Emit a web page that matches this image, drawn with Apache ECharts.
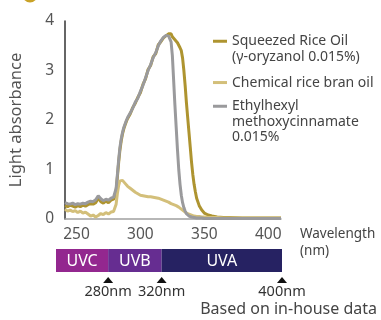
<!DOCTYPE html>
<html>
<head>
<meta charset="utf-8">
<script src="https://cdn.jsdelivr.net/npm/echarts@6/dist/echarts.min.js"></script>
<style>
  html, body { margin: 0; padding: 0; background: #fff; }
  #chart { width: 381px; height: 320px; }
</style>
</head>
<body>
<div id="chart"></div>
<script>
// wavelength (nm) shared by all three curves
const wavelengths = [
  241, 243, 245, 247, 249, 251, 253, 255, 257, 259, 261, 263, 265, 267, 269, 271, 273, 275, 277, 279,
  280, 281, 282, 283, 284, 285, 286, 287, 288, 289, 290,
  292, 294, 296, 298, 300, 302, 304, 306, 308, 310, 312, 314, 316, 318,
  320, 321, 322, 323, 324, 325, 326, 327, 328, 329, 330, 331, 332, 333, 334, 335, 336, 337, 338, 339, 340, 341, 342, 343, 344,
  346, 348, 350, 353, 356, 360, 365, 370, 380, 390, 400, 410
];

const squeezed = [
  0.27, 0.25, 0.28, 0.26, 0.24, 0.27, 0.25, 0.28, 0.26, 0.29, 0.31, 0.30, 0.33, 0.42, 0.35, 0.32, 0.36, 0.33, 0.38, 0.40,
  0.45, 0.58, 0.85, 1.15, 1.40, 1.58, 1.72, 1.82, 1.90, 1.97, 2.03,
  2.12, 2.25, 2.34, 2.46, 2.55, 2.72, 2.83, 3.02, 3.10, 3.28, 3.34, 3.52, 3.58, 3.66,
  3.70, 3.72, 3.74, 3.76, 3.74, 3.68, 3.66, 3.62, 3.60, 3.56, 3.52, 3.46, 3.40, 3.25, 3.00, 2.70, 2.35, 2.05, 1.75, 1.45, 1.15, 0.90, 0.70, 0.55, 0.42,
  0.27, 0.18, 0.12, 0.08, 0.06, 0.04, 0.03, 0.03, 0.02, 0.02, 0.02, 0.02
];

const chemical = [
  0.20, 0.16, 0.18, 0.15, 0.17, 0.13, 0.16, 0.12, 0.14, 0.10, 0.06, 0.08, 0.04, 0.07, 0.11, 0.09, 0.13, 0.10, 0.14, 0.15,
  0.16, 0.30, 0.52, 0.68, 0.77, 0.80, 0.78, 0.75, 0.72, 0.69, 0.66,
  0.62, 0.58, 0.54, 0.51, 0.48, 0.47, 0.46, 0.45, 0.45, 0.44, 0.43, 0.42, 0.40, 0.38,
  0.36, 0.35, 0.34, 0.33, 0.31, 0.30, 0.29, 0.28, 0.27, 0.26, 0.24, 0.22, 0.20, 0.18, 0.16, 0.14, 0.12, 0.11, 0.10, 0.09, 0.08, 0.07, 0.06, 0.06, 0.05,
  0.05, 0.04, 0.04, 0.03, 0.03, 0.03, 0.02, 0.02, 0.02, 0.02, 0.02, 0.02
];

const ethylhexyl = [
  0.33, 0.31, 0.30, 0.32, 0.29, 0.31, 0.30, 0.32, 0.31, 0.34, 0.36, 0.35, 0.39, 0.47, 0.41, 0.37, 0.40, 0.38, 0.42, 0.44,
  0.48, 0.62, 0.90, 1.20, 1.45, 1.62, 1.75, 1.85, 1.92, 1.99, 2.05,
  2.14, 2.24, 2.36, 2.44, 2.58, 2.70, 2.85, 3.00, 3.12, 3.26, 3.36, 3.50, 3.60, 3.67,
  3.71, 3.72, 3.70, 3.66, 3.58, 3.30, 2.80, 2.30, 1.85, 1.40, 1.00, 0.70, 0.48, 0.33, 0.23, 0.16, 0.11, 0.08, 0.06, 0.05, 0.04, 0.03, 0.03, 0.02, 0.02,
  0.02, 0.02, 0.01, 0.01, 0.01, 0.01, 0.01, 0.01, 0.01, 0.01, 0.01, 0.01
];

const xTicks = [250, 300, 350, 400];

// UV bands under the axis
const bandNames = ["UVC", "UVB", "UVA"];
const bandStart = [241, 280, 320];
const bandEnd = [280, 320, 410];
const bandColors = ["#93278f", "#662d91", "#262262"];

// boundary markers
const markerAt = [280, 320, 410];
const markerLabels = ["280nm", "320nm", "400nm"];

const names = [
  "Squeezed Rice Oil\n(\u03b3-oryzanol 0.015%)",
  "Chemical rice bran oil",
  "Ethylhexyl\nmethoxycinnamate\n0.015%",
];
const colors = ["#ae9430", "#d3bf7a", "#9a9a9c"];

const font = "Noto Sans";
const lh = 15.5;

const pairs = (ys) => wavelengths.map((x, i) => [x, ys[i]]);

const chart = echarts.init(document.getElementById("chart"));

// blank lines on top keep the icon level with the first text line
function legendText(name) {
  const lines = name.split("\n");
  const pad = lines.slice(1).map(() => "{s| }");
  return pad.concat(lines.map((l) => "{t|" + l + "}")).join("\n");
}

function legendFor(i, iconY) {
  const n = names[i].split("\n").length;
  return {
    left: 213,
    top: iconY - ((2 * n - 1) * lh) / 2,
    padding: 0,
    itemWidth: 14,
    itemHeight: 3,
    icon: "rect",
    selectedMode: false,
    data: [{ name: names[i], itemStyle: { color: colors[i] } }],
    formatter: legendText,
    textStyle: {
      rich: {
        s: { fontSize: 14, lineHeight: lh },
        t: { fontFamily: font, fontSize: 14, lineHeight: lh, color: "#444" },
      },
    },
  };
}

chart.setOption({
  animation: false,
  textStyle: { fontFamily: font },
  grid: [
    { left: 56, top: 21, width: 225, height: 198 },
    { left: 56, top: 249, width: 226, height: 23 },
  ],
  legend: [legendFor(0, 42), legendFor(1, 83.3), legendFor(2, 107)],
  title: [
    {
      text: "Based on in-house data",
      right: 4,
      top: 301,
      padding: 0,
      textStyle: { fontFamily: font, fontSize: 16, fontWeight: "normal", color: "#444" },
    },
    {
      text: "Wavelength\n(nm)",
      left: 300,
      top: 226,
      padding: 0,
      textStyle: { fontFamily: font, fontSize: 13.5, fontWeight: "normal", color: "#444", lineHeight: 17 },
    },
  ],
  xAxis: [
    {
      type: "value",
      gridIndex: 0,
      min: 241,
      max: 410,
      axisLine: { lineStyle: { color: "#a0a0a0", width: 1.5 } },
      axisTick: { show: false },
      splitLine: { show: false },
      axisLabel: { customValues: xTicks, fontSize: 15.5, color: "#555", margin: 8 },
    },
    { type: "value", gridIndex: 1, min: 241, max: 410, show: false },
  ],
  yAxis: [
    {
      type: "value",
      gridIndex: 0,
      min: 0,
      max: 4,
      interval: 1,
      name: "Light absorbance",
      nameLocation: "middle",
      nameGap: 40,
      nameTextStyle: { fontFamily: font, fontSize: 16.5, color: "#555" },
      axisLine: { show: true, lineStyle: { color: "#333", width: 1.5 } },
      axisTick: { show: false },
      splitLine: { show: false },
      axisLabel: { fontSize: 15.5, color: "#555", margin: 11 },
    },
    { type: "value", gridIndex: 1, min: 0, max: 1, show: false },
  ],
  series: [
    {
      name: names[0], type: "line", data: pairs(squeezed), showSymbol: false,
      lineStyle: { color: colors[0], width: 3 }, itemStyle: { color: colors[0] },
    },
    {
      name: names[1], type: "line", data: pairs(chemical), showSymbol: false,
      lineStyle: { color: colors[1], width: 3 }, itemStyle: { color: colors[1] },
    },
    {
      name: names[2], type: "line", data: pairs(ethylhexyl), showSymbol: false,
      lineStyle: { color: colors[2], width: 3 }, itemStyle: { color: colors[2] },
    },
    {
      type: "custom",
      xAxisIndex: 1,
      yAxisIndex: 1,
      data: bandNames.map((n, i) => [bandStart[i], bandEnd[i]]),
      renderItem: (params, api) => {
        const s = api.coord([api.value(0), 1]);
        const e = api.coord([api.value(1), 0]);
        return {
          type: "group",
          children: [
            { type: "rect", shape: { x: s[0], y: s[1], width: e[0] - s[0], height: e[1] - s[1] },
              style: { fill: bandColors[params.dataIndex] } },
            { type: "text", style: { text: bandNames[params.dataIndex], x: (s[0] + e[0]) / 2, y: (s[1] + e[1]) / 2 + 0.5,
              align: "center", verticalAlign: "middle", fill: "#fff", font: "16px 'Noto Sans'" } },
          ],
        };
      },
    },
    {
      type: "custom",
      xAxisIndex: 1,
      yAxisIndex: 1,
      data: markerAt.map((x) => [x, 0]),
      renderItem: (params, api) => {
        const p = api.coord([api.value(0), api.value(1)]);
        return {
          type: "group",
          children: [
            { type: "polygon", shape: { points: [[p[0], p[1] + 5], [p[0] + 5, p[1] + 11], [p[0] - 5, p[1] + 11]] },
              style: { fill: "#111" } },
            { type: "text", style: { text: markerLabels[params.dataIndex], x: p[0], y: p[1] + 20,
              align: "center", verticalAlign: "middle", fill: "#333", font: "14.5px 'Noto Sans'" } },
          ],
        };
      },
    },
  ],
  graphic: [
    { type: "circle", shape: { cx: 30, cy: -5, r: 7.5 }, style: { fill: "#c9a227" } },
  ],
});
</script>
</body>
</html>
